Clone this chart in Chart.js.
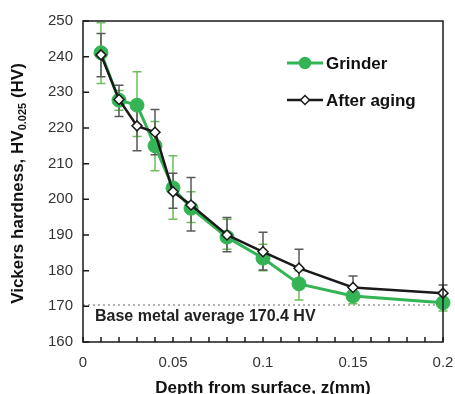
<!DOCTYPE html>
<html>
<head>
<meta charset="utf-8">
<script src="https://cdn.jsdelivr.net/npm/chart.js@4.4.1/dist/chart.umd.min.js"></script>
<style>
  html, body { margin: 0; padding: 0; background: #fff; }
  #wrap { width: 455px; height: 394px; position: relative; }
</style>
</head>
<body>
<div id="wrap"><canvas id="hv-ctx"></canvas></div>
<script>
// DATA
const DEPTH = [0.01, 0.02, 0.03, 0.04, 0.05, 0.06, 0.08, 0.1, 0.12, 0.15, 0.2];
const GRINDER = [241.1, 227.8, 226.4, 215.0, 203.2, 197.5, 189.4, 183.5, 176.3, 172.9, 171.0];
const GRINDER_HI = [249.5, 230.5, 235.8, 221.8, 212.2, 202.1, 194.4, 187.4, 180.0, 174.5, 172.5];
const GRINDER_LO = [232.5, 225.0, 217.6, 208.0, 194.4, 193.5, 186.0, 180.0, 171.8, 170.7, 168.7];
const AGING = [240.5, 228.0, 220.6, 218.8, 202.1, 198.4, 190.0, 185.3, 180.7, 175.3, 173.7];
const AGING_HI = [246.5, 232.0, 227.0, 225.2, 207.3, 206.1, 194.9, 190.8, 186.0, 178.5, 176.0];
const AGING_LO = [234.4, 223.2, 213.6, 212.5, 197.5, 191.1, 185.3, 180.2, 175.5, 172.0, 171.5];
const BASE_AVG = 170.4;
const Y_TICKS = [160, 250, 10];   // min, max, step
const X_TICKS = [0, 0.2, 0.01];

const GREEN = '#34b455';
const GREEN_ERR = '#6cbf5a';
const BLACK = '#1a1a1a';
const GREY_ERR = '#5a5a5a';
const FONT = '"Liberation Sans", Arial, sans-serif';

const pts = (ys) => DEPTH.map((x, i) => ({x: x, y: ys[i]}));

// PLUGIN: frame, inward ticks, error bars, base line, titles, legend
const decor = {
  id: 'decor',
  beforeDatasetsDraw(chart) {
    const {ctx, chartArea: a, scales: {x, y}} = chart;
    ctx.save();
    // base metal dotted line
    const by = y.getPixelForValue(BASE_AVG);
    ctx.strokeStyle = '#9a9a9a';
    ctx.lineWidth = 1.5;
    ctx.setLineDash([2, 3]);
    ctx.beginPath();
    ctx.moveTo(a.left, by);
    ctx.lineTo(a.right, by);
    ctx.stroke();
    ctx.setLineDash([]);

    ctx.fillStyle = '#222';
    ctx.font = 'bold 16px ' + FONT;
    ctx.textBaseline = 'middle';
    ctx.textAlign = 'left';
    ctx.fillText('Base metal average 170.4 HV', a.left + 12, by + 12);

    // error bars
    const drawErr = (hi, lo, color) => {
      ctx.strokeStyle = color;
      ctx.lineWidth = 1.5;
      DEPTH.forEach((d, i) => {
        const px = x.getPixelForValue(d);
        const top = y.getPixelForValue(hi[i]);
        const bot = y.getPixelForValue(lo[i]);
        ctx.beginPath();
        ctx.moveTo(px, top); ctx.lineTo(px, bot);
        ctx.moveTo(px - 4.5, top); ctx.lineTo(px + 4.5, top);
        ctx.moveTo(px - 4.5, bot); ctx.lineTo(px + 4.5, bot);
        ctx.stroke();
      });
    };
    drawErr(GRINDER_HI, GRINDER_LO, GREEN_ERR);
    drawErr(AGING_HI, AGING_LO, GREY_ERR);
    ctx.restore();
  },
  afterDraw(chart) {
    const {ctx, chartArea: a, scales: {x, y}} = chart;
    ctx.save();
    // frame
    ctx.strokeStyle = BLACK;
    ctx.lineWidth = 1.5;
    ctx.strokeRect(a.left, a.top, a.right - a.left, a.bottom - a.top);
    // inward ticks
    ctx.beginPath();
    x.ticks.forEach(t => {
      const px = x.getPixelForValue(t.value);
      ctx.moveTo(px, a.bottom); ctx.lineTo(px, a.bottom - 5);
    });
    y.ticks.forEach(t => {
      const py = y.getPixelForValue(t.value);
      ctx.moveTo(a.left, py); ctx.lineTo(a.left + 6, py);
    });
    ctx.stroke();

    // x title
    ctx.fillStyle = '#111';
    ctx.font = 'bold 17px ' + FONT;
    ctx.textAlign = 'center';
    ctx.textBaseline = 'middle';
    ctx.fillText('Depth from surface, z(mm)', (a.left + a.right) / 2, 388);

    // y title with subscript
    ctx.translate(18, (a.top + a.bottom) / 2 + 2);
    ctx.rotate(-Math.PI / 2);
    const parts = [
      ['Vickers hardness, HV', 'bold 17px ' + FONT, 0],
      ['0.025', 'bold 11px ' + FONT, 5],
      [' (HV)', 'bold 17px ' + FONT, 0]
    ];
    let total = 0;
    parts.forEach(p => { ctx.font = p[1]; total += ctx.measureText(p[0]).width; });
    let cx = -total / 2;
    ctx.textAlign = 'left';
    parts.forEach(p => {
      ctx.font = p[1];
      ctx.fillText(p[0], cx, p[2]);
      cx += ctx.measureText(p[0]).width;
    });
    ctx.restore();

    // legend
    ctx.save();
    const items = [
      {label: 'Grinder', ds: chart.data.datasets[0], y: 63},
      {label: 'After aging', ds: chart.data.datasets[1], y: 100}
    ];
    items.forEach(it => {
      ctx.strokeStyle = it.ds.borderColor;
      ctx.lineWidth = it.ds.borderWidth;
      ctx.beginPath();
      ctx.moveTo(287, it.y); ctx.lineTo(323, it.y);
      ctx.stroke();
      ctx.fillStyle = it.ds.pointBackgroundColor;
      ctx.strokeStyle = it.ds.pointBorderColor;
      ctx.lineWidth = 1.5;
      ctx.beginPath();
      if (it.ds.pointStyle === 'rectRot') {
        ctx.moveTo(305, it.y - 4.5); ctx.lineTo(309.5, it.y);
        ctx.lineTo(305, it.y + 4.5); ctx.lineTo(300.5, it.y);
        ctx.closePath();
      } else {
        ctx.arc(305, it.y, 5.5, 0, Math.PI * 2);
      }
      ctx.fill();
      ctx.stroke();
      ctx.fillStyle = '#111';
      ctx.font = 'bold 17px ' + FONT;
      ctx.textAlign = 'left';
      ctx.textBaseline = 'middle';
      ctx.fillText(it.label, 326, it.y + 1);
    });
    ctx.restore();
  }
};

// CHART
new Chart(document.getElementById('hv-ctx'), {
  type: 'line',
  data: {
    datasets: [{
      label: 'Grinder',
      data: pts(GRINDER),
      order: 2,
      borderColor: GREEN,
      borderWidth: 3,
      pointStyle: 'circle',
      pointRadius: 7,
      pointBackgroundColor: GREEN,
      pointBorderColor: GREEN,
      pointBorderWidth: 1,
      tension: 0,
      clip: false
    }, {
      label: 'After aging',
      data: pts(AGING),
      order: 1,
      borderColor: BLACK,
      borderWidth: 2.5,
      pointStyle: 'rectRot',
      pointRadius: 5,
      pointBackgroundColor: '#ffffff',
      pointBorderColor: BLACK,
      pointBorderWidth: 1.5,
      tension: 0,
      clip: false
    }]
  },
  options: {
    responsive: true,
    maintainAspectRatio: false,
    animation: false,
    layout: { padding: { top: 21, right: 12, left: 0, bottom: 0 } },
    plugins: { legend: { display: false }, tooltip: { enabled: false } },
    scales: {
      x: {
        type: 'linear',
        min: X_TICKS[0],
        max: X_TICKS[1],
        afterFit: (s) => { s.height = 52; s.paddingLeft = 0; s.paddingRight = 0; },
        grid: { display: false, drawTicks: false },
        border: { display: false },
        ticks: {
          stepSize: X_TICKS[2],
          autoSkip: false,
          maxRotation: 0,
          padding: 12,
          color: '#333',
          font: { family: FONT, size: 15 },
          callback: (v) => (Math.round(v * 100) % 5 === 0) ? String(Math.round(v * 100) / 100) : ''
        }
      },
      y: {
        min: Y_TICKS[0],
        max: Y_TICKS[1],
        afterFit: (s) => { s.width = 83; s.paddingTop = 0; s.paddingBottom = 0; },
        grid: { display: false, drawTicks: false },
        border: { display: false },
        ticks: {
          stepSize: Y_TICKS[2],
          padding: 10,
          color: '#333',
          font: { family: FONT, size: 15 }
        }
      }
    }
  },
  plugins: [decor]
});
</script>
</body>
</html>
